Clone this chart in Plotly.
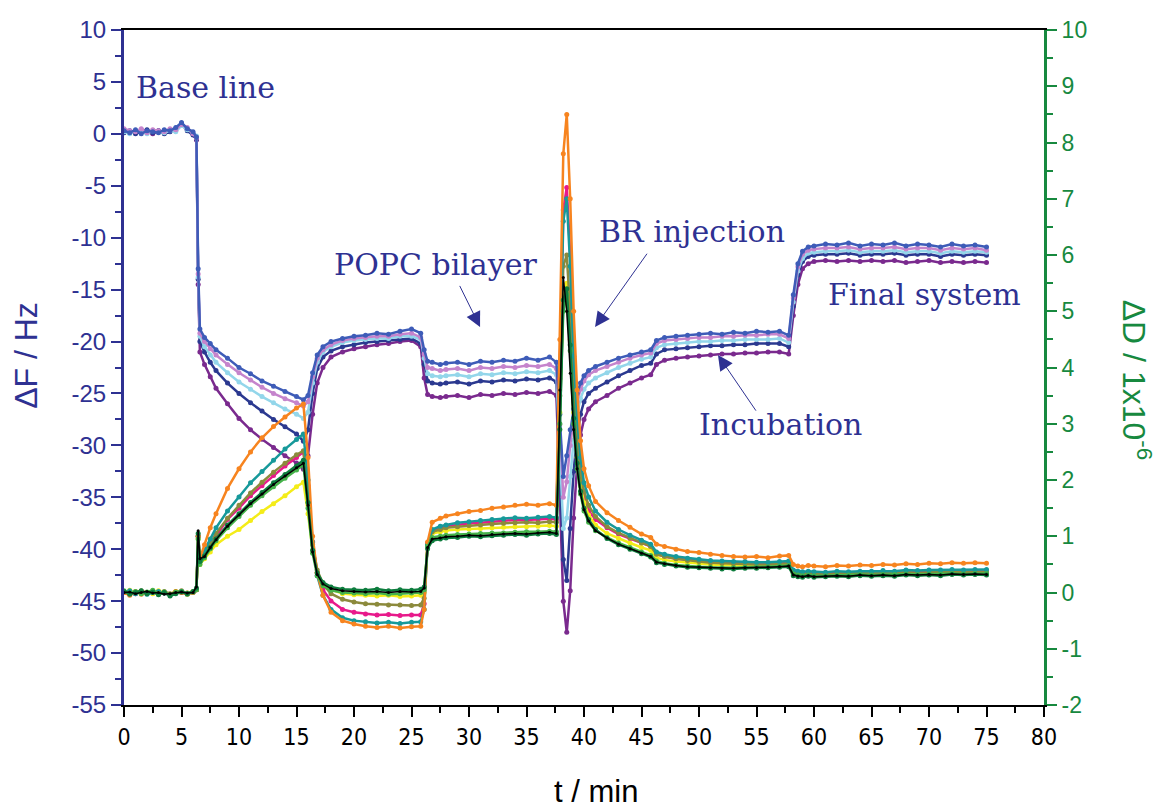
import plotly.graph_objects as go

# time axis shared by all traces (min)
t_min = [0, 0.5, 1, 1.5, 2, 2.5, 3, 3.5, 4, 4.5, 5, 5.5, 6,
         6.3, 6.45, 6.6, 7, 7.5, 8, 9, 10, 11, 12, 13, 14, 15, 15.6,
         16, 16.4, 16.8, 17.3, 18, 19, 20, 21, 22, 23, 24, 25, 25.8,
         26.1, 26.4, 26.8, 27.5, 28, 29, 30, 31, 32, 33, 34, 35, 36, 37, 37.6,
         37.9, 38.2, 38.5, 38.8, 39.1, 39.4, 39.7, 40, 40.4, 41,
         42, 43, 44, 45, 45.8, 46.3, 47, 48, 49, 50, 51, 52, 53, 54, 55, 56, 57, 57.8,
         58.2, 58.6, 59, 59.5, 60, 61, 62, 63, 64, 65, 66, 67, 68, 69, 70, 71, 72, 73, 74, 75]

# frequency shifts, Hz (left axis)
f_blue = [0.3, 0.1, 0.4, 0.0, 0.3, 0.2, 0.1, 0.4, 0.3, 0.6, 1.1, 0.5, 0.2,
          -0.3, -13.0, -18.8, -19.6, -20.2, -20.8, -21.6, -22.5, -23.1, -23.8, -24.3, -24.8, -25.3, -25.6,
          -25.2, -23.0, -21.3, -20.5, -20.0, -19.7, -19.5, -19.4, -19.2, -19.3, -19.0, -18.8, -19.2,
          -20.8, -21.9, -22.0, -22.2, -22.1, -22.0, -22.2, -21.9, -22.0, -21.8, -21.9, -21.6, -21.8, -21.5, -22.0,
          -27.0, -33.0, -31.0, -28.5, -26.5, -25.0, -24.0, -23.3, -22.8, -22.4,
          -22.0, -21.6, -21.3, -21.0, -20.8, -19.9, -19.6, -19.5, -19.4, -19.3, -19.2, -19.3, -19.1, -19.2, -19.0, -19.1, -19.0, -19.4,
          -15.5, -12.5, -11.3, -10.9, -10.8, -10.6, -10.7, -10.5, -10.8, -10.6, -10.7, -10.5, -10.8, -10.6, -10.7, -10.9, -10.6, -10.8, -10.7, -10.9]
f_lavender = [0.5, 0.3, 0.2, 0.5, 0.1, 0.4, 0.3, 0.2, 0.5, 0.4, 0.9, 0.6, 0.0,
              -0.4, -13.5, -19.2, -20.0, -20.7, -21.3, -22.2, -23.0, -23.7, -24.4, -25.0, -25.5, -25.9, -26.2,
              -25.8, -23.4, -21.6, -20.8, -20.3, -19.9, -19.7, -19.6, -19.5, -19.5, -19.3, -19.2, -19.6,
              -21.2, -22.5, -22.6, -22.8, -22.7, -22.6, -22.8, -22.5, -22.6, -22.4, -22.5, -22.3, -22.4, -22.2, -22.6,
              -28.0, -35.0, -33.5, -30.0, -27.5, -25.8, -24.6, -23.8, -23.2, -22.8,
              -22.4, -22.0, -21.6, -21.3, -21.1, -20.2, -19.9, -19.8, -19.7, -19.6, -19.6, -19.5, -19.5, -19.4, -19.4, -19.3, -19.3, -19.7,
              -15.8, -12.8, -11.6, -11.2, -11.1, -11.0, -11.0, -10.9, -11.1, -11.0, -11.0, -10.9, -11.1, -11.0, -11.0, -11.2, -11.0, -11.1, -11.0, -11.2]
f_cyan = [0.2, 0.0, 0.3, 0.2, 0.0, 0.3, 0.2, 0.1, 0.3, 0.2, 0.8, 0.4, 0.1,
          -0.2, -13.8, -19.5, -20.5, -21.3, -22.0, -23.0, -23.9, -24.6, -25.3, -25.9, -26.5, -27.0, -27.4,
          -26.8, -24.0, -22.0, -21.0, -20.5, -20.1, -19.9, -19.8, -19.7, -19.7, -19.5, -19.5, -19.8,
          -21.6, -23.1, -23.3, -23.4, -23.3, -23.2, -23.4, -23.1, -23.2, -23.0, -23.1, -22.9, -23.0, -22.8, -23.2,
          -30.0, -38.0, -37.0, -33.0, -29.5, -27.0, -25.5, -24.6, -24.0, -23.5,
          -23.0, -22.5, -22.1, -21.7, -21.5, -20.6, -20.3, -20.2, -20.1, -20.0, -20.0, -19.9, -19.9, -19.8, -19.8, -19.8, -19.7, -20.1,
          -16.2, -13.2, -12.0, -11.5, -11.4, -11.3, -11.3, -11.2, -11.4, -11.3, -11.3, -11.2, -11.4, -11.3, -11.3, -11.5, -11.3, -11.4, -11.3, -11.4]
f_navy = [0.1, 0.3, 0.0, 0.2, 0.4, 0.1, 0.3, 0.0, 0.2, 0.5, 1.0, 0.3, -0.1,
          -0.5, -14.0, -20.0, -21.0, -22.0, -22.8, -24.0, -25.0, -25.9, -26.7, -27.5, -28.2, -28.9, -29.6,
          -28.5, -25.0, -22.6, -21.5, -20.9, -20.5, -20.3, -20.1, -20.0, -19.9, -19.8, -19.7, -20.2,
          -22.2, -23.8, -24.0, -24.1, -24.0, -23.9, -24.1, -23.8, -23.9, -23.7, -23.8, -23.6, -23.7, -23.5, -23.9,
          -32.0, -41.0, -43.0, -38.0, -32.5, -29.0, -27.0, -25.8, -25.0, -24.5,
          -23.9, -23.3, -22.8, -22.3, -22.1, -21.2, -20.8, -20.7, -20.6, -20.5, -20.4, -20.4, -20.3, -20.3, -20.2, -20.2, -20.2, -20.5,
          -16.6, -13.6, -12.3, -11.8, -11.7, -11.6, -11.6, -11.5, -11.7, -11.6, -11.6, -11.5, -11.7, -11.6, -11.6, -11.8, -11.6, -11.7, -11.6, -11.7]
f_purple = [0.3, 0.1, 0.2, 0.4, 0.2, 0.0, 0.3, 0.2, 0.4, 0.3, 0.9, 0.4, 0.0,
            -0.6, -14.5, -21.0, -22.2, -23.4, -24.5, -26.0, -27.4, -28.5, -29.4, -30.2, -31.0, -31.7, -32.3,
            -31.0, -27.0, -24.0, -22.5, -21.5, -21.0, -20.7, -20.5, -20.3, -20.2, -20.0, -19.9, -20.5,
            -23.5, -25.1, -25.3, -25.4, -25.3, -25.2, -25.4, -25.1, -25.2, -25.0, -25.1, -24.9, -25.0, -24.8, -25.2,
            -35.0, -45.0, -48.0, -44.0, -37.0, -32.0, -29.0, -27.5, -26.5, -25.8,
            -25.2, -24.5, -24.0, -23.5, -23.2, -22.2, -21.8, -21.6, -21.5, -21.4, -21.3, -21.2, -21.2, -21.1, -21.1, -21.0, -21.0, -21.2,
            -17.5, -14.5, -13.0, -12.5, -12.3, -12.2, -12.3, -12.2, -12.3, -12.2, -12.3, -12.2, -12.4, -12.3, -12.2, -12.4, -12.3, -12.4, -12.3, -12.4]

# dissipation shifts, 1e-6 (right axis)
d_orange = [0.0, -0.05, 0.02, -0.03, 0.0, 0.03, -0.02, 0.0, -0.04, 0.02, 0.0, -0.03, 0.0,
            0.05, 1.0, 0.6, 0.85, 1.15, 1.4, 1.85, 2.2, 2.5, 2.75, 2.95, 3.12, 3.28, 3.35,
            2.4, 1.0, 0.35, -0.05, -0.35, -0.5, -0.56, -0.6, -0.62, -0.6, -0.63, -0.61, -0.6,
            -0.3, 0.9, 1.25, 1.32, 1.36, 1.4, 1.44, 1.46, 1.5, 1.52, 1.55, 1.57, 1.55, 1.58, 1.55,
            4.5, 7.8, 8.5, 7.0, 5.0, 3.6, 2.7, 2.2, 1.9, 1.62,
            1.42, 1.28, 1.16, 1.04, 0.98, 0.86, 0.82, 0.77, 0.73, 0.71, 0.68, 0.66, 0.64, 0.63, 0.64, 0.62, 0.65, 0.66,
            0.5, 0.47, 0.46, 0.48, 0.47, 0.46, 0.48, 0.47, 0.49, 0.48, 0.5, 0.49, 0.51, 0.5, 0.52, 0.51, 0.53, 0.52, 0.53, 0.52]
d_teal = [0.0, 0.03, -0.02, 0.01, -0.03, 0.0, 0.02, -0.01, -0.05, 0.0, 0.02, -0.02, 0.0,
          0.05, 1.0, 0.55, 0.75, 0.95, 1.15, 1.45, 1.7, 1.95, 2.15, 2.35, 2.55, 2.72, 2.82,
          2.0, 0.9, 0.3, -0.05, -0.3, -0.45, -0.5, -0.52, -0.54, -0.53, -0.55, -0.53, -0.52,
          -0.3, 0.85, 1.12, 1.18, 1.2, 1.24, 1.26, 1.28, 1.3, 1.31, 1.33, 1.32, 1.34, 1.35, 1.33,
          4.0, 6.6, 7.0, 5.8, 4.2, 3.1, 2.4, 1.95, 1.7, 1.45,
          1.25, 1.12, 1.02, 0.93, 0.86, 0.72, 0.68, 0.64, 0.61, 0.59, 0.57, 0.56, 0.55, 0.55, 0.54, 0.54, 0.55, 0.56,
          0.4, 0.38, 0.37, 0.38, 0.37, 0.36, 0.38, 0.37, 0.38, 0.38, 0.39, 0.38, 0.4, 0.39, 0.4, 0.4, 0.41, 0.4, 0.41, 0.41]
d_olive = [0.02, -0.02, 0.0, 0.03, -0.01, 0.01, -0.03, 0.02, -0.02, 0.0, 0.03, -0.01, 0.01,
           0.05, 1.0, 0.55, 0.7, 0.88, 1.05, 1.32, 1.55, 1.77, 1.96, 2.14, 2.3, 2.45, 2.52,
           1.8, 0.85, 0.4, 0.15, -0.02, -0.12, -0.17, -0.2, -0.21, -0.22, -0.22, -0.23, -0.22,
           -0.1, 0.85, 1.08, 1.12, 1.15, 1.17, 1.19, 1.2, 1.22, 1.23, 1.24, 1.25, 1.24, 1.26, 1.25,
           3.5, 5.8, 6.0, 5.0, 3.6, 2.7, 2.1, 1.8, 1.55, 1.35,
           1.17, 1.06, 0.97, 0.88, 0.82, 0.68, 0.64, 0.6, 0.57, 0.55, 0.53, 0.52, 0.51, 0.51, 0.5, 0.5, 0.51, 0.52,
           0.36, 0.34, 0.33, 0.34, 0.33, 0.33, 0.34, 0.34, 0.35, 0.34, 0.35, 0.35, 0.36, 0.35, 0.36, 0.36, 0.37, 0.36, 0.37, 0.37]
d_yellow = [0.01, 0.04, -0.01, 0.02, 0.0, -0.02, 0.03, 0.0, -0.03, 0.02, 0.01, -0.01, 0.02,
            0.05, 0.95, 0.5, 0.6, 0.72, 0.85, 1.0, 1.12, 1.28, 1.44, 1.58, 1.72, 1.88, 1.96,
            1.4, 0.75, 0.35, 0.15, 0.05, -0.02, -0.04, -0.05, -0.06, -0.05, -0.07, -0.06, -0.05,
            0.0, 0.85, 1.05, 1.08, 1.1, 1.12, 1.13, 1.14, 1.15, 1.16, 1.17, 1.17, 1.18, 1.19, 1.18,
            3.2, 5.2, 5.5, 4.5, 3.2, 2.4, 1.9, 1.6, 1.38, 1.2,
            1.05, 0.96, 0.88, 0.8, 0.75, 0.62, 0.58, 0.55, 0.53, 0.51, 0.5, 0.49, 0.48, 0.48, 0.47, 0.47, 0.48, 0.49,
            0.34, 0.33, 0.32, 0.33, 0.32, 0.32, 0.33, 0.33, 0.34, 0.33, 0.34, 0.34, 0.35, 0.34, 0.35, 0.35, 0.36, 0.35, 0.36, 0.36]
d_green = [0.03, -0.01, 0.02, -0.02, 0.01, 0.04, -0.02, 0.01, -0.04, 0.01, 0.02, -0.03, 0.01,
           0.05, 0.95, 0.5, 0.62, 0.78, 0.92, 1.15, 1.35, 1.55, 1.72, 1.88, 2.03, 2.18, 2.27,
           1.5, 0.7, 0.3, 0.12, 0.04, 0.0, -0.01, -0.02, -0.01, -0.03, -0.02, -0.01, 0.0,
           0.05, 0.82, 0.98, 1.0, 1.02, 1.03, 1.04, 1.05, 1.06, 1.06, 1.07, 1.08, 1.08, 1.09, 1.08,
           3.0, 5.0, 5.3, 4.3, 3.0, 2.2, 1.75, 1.45, 1.25, 1.1,
           0.98, 0.88, 0.8, 0.72, 0.66, 0.56, 0.52, 0.49, 0.47, 0.46, 0.45, 0.44, 0.44, 0.45, 0.45, 0.46, 0.47, 0.48,
           0.33, 0.31, 0.3, 0.31, 0.3, 0.3, 0.31, 0.31, 0.32, 0.31, 0.32, 0.32, 0.33, 0.32, 0.33, 0.33, 0.34, 0.33, 0.34, 0.34]
d_darkgreen = [0.02, -0.03, 0.0, 0.03, -0.02, 0.01, -0.04, 0.0, -0.06, -0.02, 0.01, -0.02, 0.02,
               0.08, 1.05, 0.55, 0.65, 0.8, 0.95, 1.2, 1.4, 1.6, 1.78, 1.95, 2.1, 2.25, 2.35,
               1.6, 0.75, 0.35, 0.18, 0.1, 0.06, 0.05, 0.04, 0.06, 0.03, 0.05, 0.04, 0.06,
               0.1, 0.78, 0.92, 0.95, 0.97, 0.98, 1.0, 0.99, 1.01, 1.02, 1.03, 1.02, 1.04, 1.05, 1.03,
               2.9, 5.2, 5.4, 4.4, 3.1, 2.3, 1.8, 1.5, 1.3, 1.12,
               0.96, 0.85, 0.77, 0.69, 0.63, 0.53, 0.5, 0.47, 0.45, 0.44, 0.43, 0.42, 0.42, 0.43, 0.43, 0.44, 0.45, 0.46,
               0.3, 0.28, 0.27, 0.29, 0.27, 0.28, 0.29, 0.28, 0.3, 0.29, 0.3, 0.29, 0.31, 0.3, 0.31, 0.3, 0.32, 0.31, 0.32, 0.31]
d_black = [0.0, 0.01, -0.02, 0.0, 0.02, -0.01, 0.0, -0.03, -0.02, 0.0, 0.01, -0.01, 0.0,
           0.1, 1.1, 0.6, 0.64, 0.8, 0.94, 1.18, 1.38, 1.58, 1.75, 1.92, 2.07, 2.22, 2.3,
           1.55, 0.72, 0.32, 0.15, 0.07, 0.03, 0.02, 0.01, 0.02, 0.0, 0.02, 0.01, 0.02,
           0.08, 0.8, 0.95, 0.97, 0.99, 1.0, 1.02, 1.01, 1.03, 1.04, 1.05, 1.04, 1.06, 1.07, 1.05,
           3.6, 5.6, 5.0, 3.9, 2.9, 2.2, 1.75, 1.47, 1.27, 1.1,
           0.97, 0.86, 0.78, 0.7, 0.64, 0.54, 0.51, 0.48, 0.46, 0.45, 0.44, 0.43, 0.43, 0.44, 0.44, 0.45, 0.46, 0.47,
           0.31, 0.29, 0.28, 0.3, 0.28, 0.29, 0.3, 0.29, 0.31, 0.3, 0.31, 0.3, 0.32, 0.31, 0.32, 0.31, 0.33, 0.32, 0.33, 0.32]
d_magenta = [0.01, 0.0, -0.02, 0.02, 0.0, -0.01, 0.01, 0.0, -0.03, 0.01, 0.0, -0.02, 0.01,
             0.05, 1.0, 0.55, 0.7, 0.85, 1.0, 1.3, 1.5, 1.72, 1.9, 2.08, 2.25, 2.4, 2.5,
             1.9, 0.9, 0.35, 0.05, -0.15, -0.3, -0.35, -0.38, -0.4, -0.39, -0.41, -0.4, -0.4,
             -0.2, 0.88, 1.1, 1.15, 1.18, 1.2, 1.23, 1.24, 1.26, 1.27, 1.29, 1.29, 1.3, 1.31, 1.3,
             3.8, 6.8, 7.2, 6.0, 4.2, 3.0, 2.2, 1.7, 1.45, 1.3,
             1.15, 1.04, 0.96, 0.88, 0.82, 0.68, 0.64, 0.6, 0.58, 0.56, 0.54, 0.53, 0.52, 0.52, 0.51, 0.51, 0.52, 0.53,
             0.37, 0.35, 0.34, 0.35, 0.34, 0.34, 0.35, 0.35, 0.36, 0.35, 0.36, 0.36, 0.37, 0.36, 0.37, 0.37, 0.38, 0.37, 0.38, 0.38]

# tick labels (hyphen minus, as in the original)
f_ticks = list(range(-55, 11, 5))
d_ticks = list(range(-2, 11))

freq_series = [
    (f_purple, '#7a2a8e'),
    (f_navy, '#2b3990'),
    (f_cyan, '#93d6ea'),
    (f_lavender, '#c584cc'),
    (f_blue, '#3e5cb8'),
]
diss_series = [
    (d_magenta, '#e8198b'),
    (d_yellow, '#f4ec19'),
    (d_olive, '#8c8a3c'),
    (d_teal, '#16999a'),
    (d_orange, '#f7841f'),
    (d_green, '#45b34a'),
    (d_darkgreen, '#0e7d3e'),
]

NAVY = '#2e3192'
GREEN = '#17893f'
SANS = 'Liberation Sans, Arial, sans-serif'

fig = go.Figure()

for vals, col in freq_series:
    assert len(vals) == len(t_min)
    fig.add_trace(go.Scatter(x=t_min, y=vals, mode='lines+markers',
                             line=dict(color=col, width=2.5),
                             marker=dict(color=col, size=5),
                             showlegend=False))

for vals, col in diss_series:
    assert len(vals) == len(t_min)
    fig.add_trace(go.Scatter(x=t_min, y=vals, mode='lines+markers', yaxis='y2',
                             line=dict(color=col, width=2.5),
                             marker=dict(color=col, size=5),
                             showlegend=False))
fig.add_trace(go.Scatter(x=t_min, y=d_black, mode='lines+markers', yaxis='y2',
                         line=dict(color='black', width=1.5),
                         marker=dict(color='black', size=3),
                         showlegend=False))

# text labels
serif = dict(family='DejaVu Serif', size=30, color=NAVY)
labels = [
    ('Base line', 7.1, 4.5),
    ('POPC bilayer', 27.1, -12.6),
    ('BR injection', 49.4, -9.4),
    ('Incubation', 57.1, -28.0),
    ('Final system', 69.6, -15.5),
]
for txt, lx, ly in labels:
    fig.add_annotation(x=lx, y=ly, text=txt, showarrow=False, font=serif)

# arrows: head (x, y), tail (ax, ay)
arrows = [
    (30.96, -18.6, 29.13, -14.5),
    (40.96, -18.6, 45.57, -11.4),
    (51.65, -21.3, 55.04, -26.8),
]
for hx, hy, tx, ty in arrows:
    fig.add_annotation(x=hx, y=hy, ax=tx, ay=ty, xref='x', yref='y',
                       axref='x', ayref='y', text='', showarrow=True,
                       arrowhead=2, arrowsize=3, arrowwidth=1,
                       arrowcolor=NAVY)

# axis titles placed as annotations so the plot frame stays put
fig.add_annotation(xref='paper', yref='paper', x=-0.106, y=0.518, text='ΔF / Hz',
                   textangle=-90, showarrow=False, xanchor='center', yanchor='middle',
                   font=dict(family=SANS, size=32, color=NAVY))
fig.add_annotation(xref='paper', yref='paper', x=1.101, y=0.482,
                   text='ΔD / 1x10<sup>-6</sup>', textangle=90, showarrow=False,
                   xanchor='center', yanchor='middle',
                   font=dict(family=SANS, size=32, color=GREEN))
fig.add_annotation(xref='paper', yref='paper', x=0.513, y=-0.128, text='t / min',
                   showarrow=False, xanchor='center', yanchor='middle',
                   font=dict(family=SANS, size=31, color='black'))

# the page body adds an 8 px offset, so the figure is 8 px smaller each way
fig.update_layout(
    width=1160, height=804,
    margin=dict(l=116, r=124, t=22, b=107),
    plot_bgcolor='white', paper_bgcolor='white',
    showlegend=False,
    xaxis=dict(range=[0, 80], dtick=5, tick0=0, showgrid=False, zeroline=False,
               automargin=False,
               showline=True, linecolor='black', linewidth=2, mirror=True,
               ticks='outside', ticklen=10, tickwidth=2, tickcolor='black',
               minor=dict(dtick=2.5, ticks='outside', ticklen=6, tickwidth=2, tickcolor='black'),
               tickfont=dict(family='DejaVu Sans Condensed, Liberation Sans Narrow, Liberation Sans',
                             size=23, color='black')),
    yaxis=dict(range=[-55, 10], tickmode='array', tickvals=f_ticks,
               ticktext=[str(v) for v in f_ticks],
               showgrid=False, zeroline=False, automargin=False,
               showline=True, linecolor=NAVY, linewidth=3,
               ticks='outside', ticklen=10, tickwidth=2, tickcolor=NAVY,
               minor=dict(dtick=2.5, ticks='outside', ticklen=6, tickwidth=2, tickcolor=NAVY),
               tickfont=dict(family=SANS, size=24, color=NAVY)),
    yaxis2=dict(range=[-2, 10], tickmode='array', tickvals=d_ticks,
                ticktext=[str(v) for v in d_ticks],
                overlaying='y', side='right', automargin=False,
                showgrid=False, zeroline=False,
                showline=True, linecolor=GREEN, linewidth=3,
                ticks='outside', ticklen=10, tickwidth=2, tickcolor=GREEN,
                minor=dict(dtick=0.5, ticks='outside', ticklen=6, tickwidth=2, tickcolor=GREEN),
                tickfont=dict(family=SANS, size=23, color=GREEN)),
)

fig.write_html("out.html")
